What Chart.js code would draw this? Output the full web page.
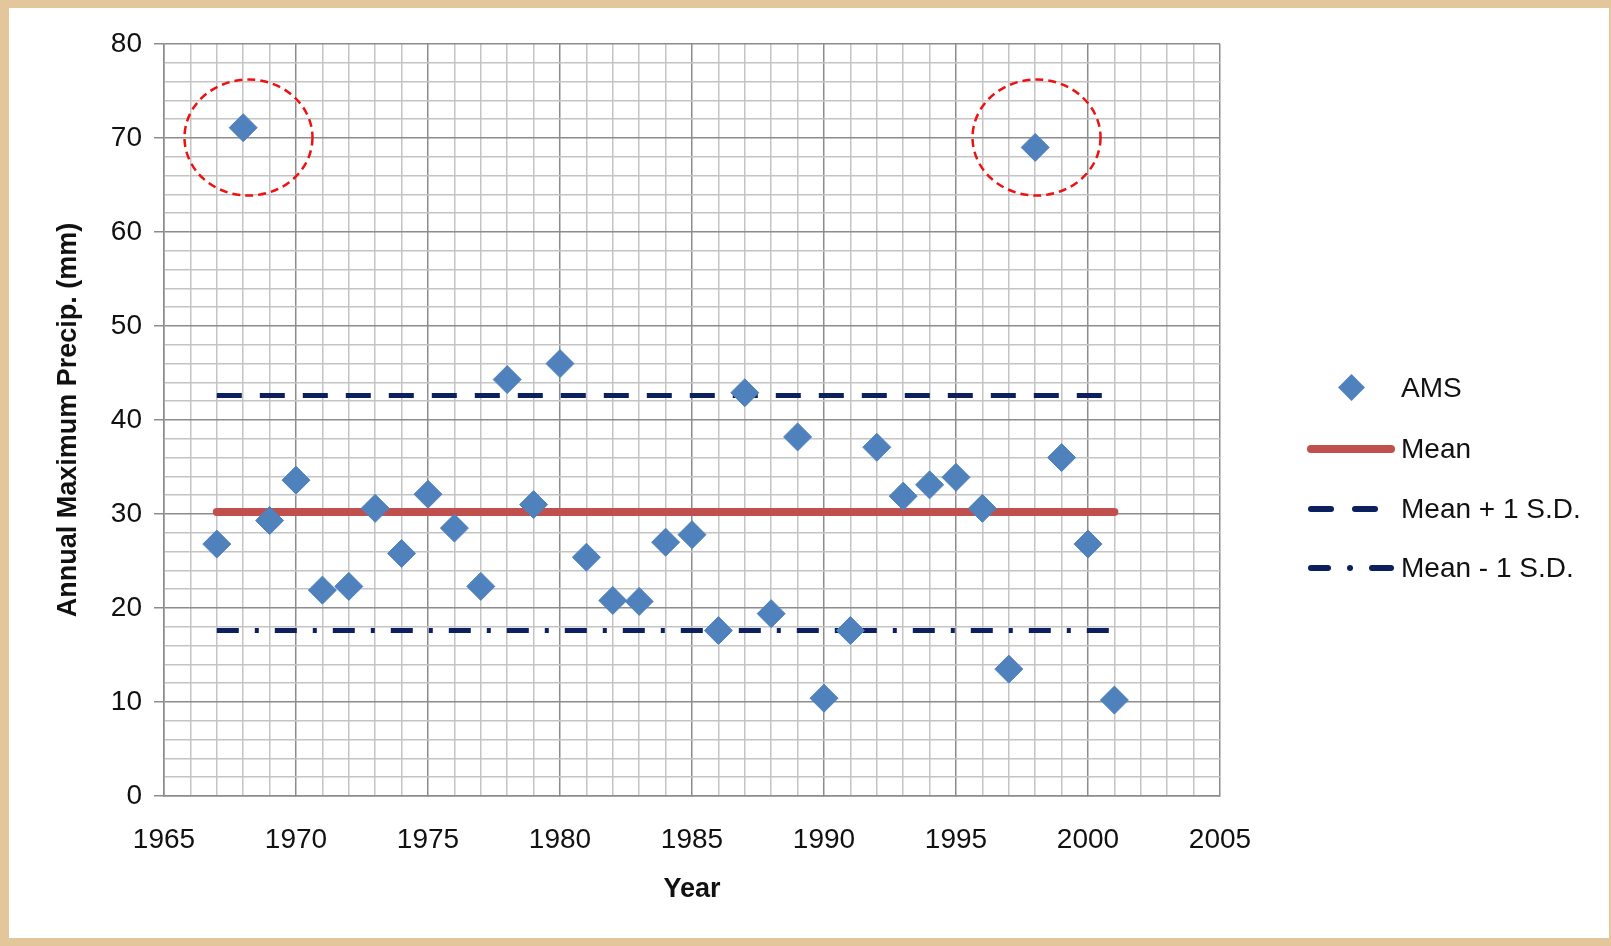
<!DOCTYPE html>
<html><head><meta charset="utf-8">
<script src="https://cdn.jsdelivr.net/npm/chart.js@4"></script>
<style>
html,body{margin:0;padding:0;width:1611px;height:946px;background:#e3c79a;overflow:hidden;font-family:"Liberation Sans",Arial,sans-serif}
#panel{position:absolute;left:9px;top:8px;width:1600px;height:930px;background:#fff}
#wrap{position:absolute;left:0;top:0;width:1611px;height:946px}
.leg{position:absolute;font-size:28px;color:#111;line-height:32px}
.sw{position:absolute}
</style></head><body>
<div id="panel"></div>
<div id="wrap"><canvas id="c" width="1611" height="946"></canvas></div>
<div class="sw" style="left:1342px;top:378px;width:19px;height:19px;background:#4f81bd;transform:rotate(45deg)"></div>
<div class="leg" style="left:1401px;top:372px">AMS</div>
<div class="sw" style="left:1307px;top:445px;width:88px;height:8px;border-radius:4px;background:#c0504d"></div>
<div class="leg" style="left:1401px;top:433px">Mean</div>
<div class="sw" style="left:1308px;top:506px;width:26px;height:6px;border-radius:3px;background:#0c1f5e"></div>
<div class="sw" style="left:1352px;top:506px;width:26px;height:6px;border-radius:3px;background:#0c1f5e"></div>
<div class="leg" style="left:1401px;top:493px">Mean + 1 S.D.</div>
<div class="sw" style="left:1308px;top:565px;width:23px;height:6px;border-radius:3px;background:#0c1f5e"></div>
<div class="sw" style="left:1347px;top:565px;width:6px;height:6px;border-radius:3px;background:#0c1f5e"></div>
<div class="sw" style="left:1369px;top:565px;width:25px;height:6px;border-radius:3px;background:#0c1f5e"></div>
<div class="leg" style="left:1401px;top:552px">Mean - 1 S.D.</div>
<script>
const years = [1967,1968,1969,1970,1971,1972,1973,1974,1975,1976,1977,1978,1979,1980,1981,1982,1983,1984,1985,1986,1987,1988,1989,1990,1991,1992,1993,1994,1995,1996,1997,1998,1999,2000,2001];
const ams = [26.8,71.1,29.3,33.6,21.9,22.3,30.6,25.8,32.1,28.5,22.3,44.3,31.0,46.0,25.4,20.8,20.7,27.0,27.8,17.6,42.9,19.4,38.2,10.4,17.6,37.1,31.9,33.1,33.9,30.6,13.5,69.0,36.0,26.8,10.2];
const meanVal = 30.2;
const plusSD = 42.6;
const minusSD = 17.6;
const outliers = [[1968.2,70.05],[1998.05,70.05]];

const pts = years.map((y,i)=>({x:y,y:ams[i]}));
const flat = v => [{x:1967,y:v},{x:2001,y:v}];

const circles = {
  id:'circles',
  afterDatasetsDraw(chart){
    const {ctx,scales:{x,y}} = chart;
    ctx.save();
    ctx.strokeStyle='#ee1111';ctx.lineWidth=2.5;ctx.setLineDash([8,5]);
    outliers.forEach(o=>{
      ctx.beginPath();
      ctx.ellipse(x.getPixelForValue(o[0]),y.getPixelForValue(o[1]),64,58,0,0,Math.PI*2);
      ctx.stroke();
    });
    ctx.restore();
  }
};

const gridCol = (c,step) => (c.tick && Math.round(c.tick.value)%step===0) ? '#8c8c8c' : '#c4c4c4';
const tickCol = (c,step) => (c.tick && Math.round(c.tick.value)%step===0) ? '#8c8c8c' : 'rgba(0,0,0,0)';

new Chart(document.getElementById('c'),{
  type:'scatter',
  data:{datasets:[
    {label:'Mean',data:flat(meanVal),showLine:true,borderColor:'#c0504d',borderWidth:8,pointRadius:0,borderCapStyle:'round',order:3},
    {label:'Mean + 1 S.D.',data:flat(plusSD),showLine:true,borderColor:'#0c1f5e',borderWidth:5,borderDash:[25,18],pointRadius:0,order:2},
    {label:'Mean - 1 S.D.',data:flat(minusSD),showLine:true,borderColor:'#0c1f5e',borderWidth:5,borderDash:[22,16,4,16],pointRadius:0,order:2},
    {label:'AMS',data:pts,pointStyle:'rectRot',pointRadius:14,backgroundColor:'#4f81bd',borderColor:'#4f81bd',order:1}
  ]},
  options:{
    responsive:false,animation:false,
    layout:{padding:{left:48,right:391,top:44,bottom:36}},
    plugins:{legend:{display:false},tooltip:{enabled:false}},
    scales:{
      x:{type:'linear',min:1965,max:2005,
        afterFit(s){s.height=114;},
        ticks:{stepSize:1,autoSkip:false,maxRotation:0,color:'#111',font:{size:28,family:'Liberation Sans'},padding:27,
          callback:v=>v%5===0?String(v):''},
        grid:{color:c=>gridCol(c,5),tickColor:c=>tickCol(c,5),tickLength:0,lineWidth:1.5},
        border:{color:'#8c8c8c',width:1.5},
        title:{display:true,text:'Year',color:'#111',font:{size:27,weight:'bold',family:'Liberation Sans'},padding:{top:0}}
      },
      y:{min:0,max:80,
        afterFit(s){s.width=116;},
        ticks:{stepSize:2,autoSkip:false,color:'#111',font:{size:28,family:'Liberation Sans'},padding:12,
          callback:v=>v%10===0?String(v):''},
        grid:{color:c=>gridCol(c,10),tickColor:c=>tickCol(c,10),tickLength:10,lineWidth:1.5},
        border:{color:'#8c8c8c',width:1.5},
        title:{display:true,text:'Annual Maximum Precip. (mm)',color:'#111',font:{size:27,weight:'bold',family:'Liberation Sans'},padding:{bottom:0}}
      }
    }
  },
  plugins:[circles]
});
</script>
</body></html>
